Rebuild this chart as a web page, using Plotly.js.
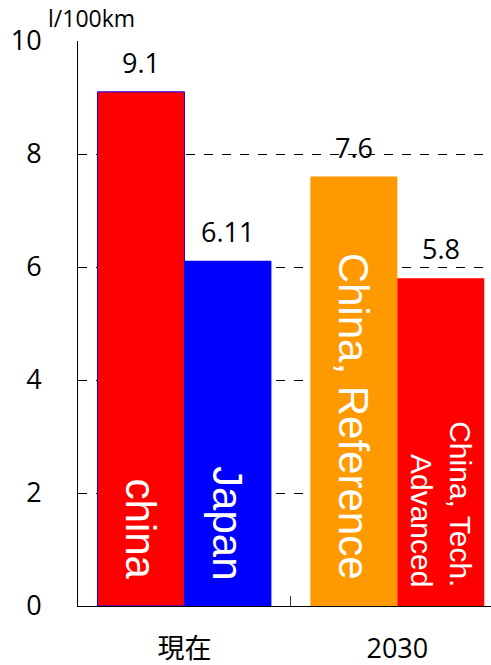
<!DOCTYPE html>
<html>
<head>
<meta charset="utf-8">
<script src="https://cdn.plot.ly/plotly-3.0.1.min.js"></script>
<style>
  html, body { margin: 0; padding: 0; background: #fff; }
  #chart { width: 491px; height: 665px; }
</style>
</head>
<body>
<div id="chart"></div>
<script>
// Fuel consumption, l/100km
const periods = ["現在", "2030"];

// first bar of each group
const firstValues = [9.1, 7.6];
const firstLabels = ["china", "China, Reference"];
const firstValueText = ["9.1", "7.6"];

// second bar of each group
const secondValues = [6.11, 5.8];
const secondLabels = ["Japan", "China, Tech.<br>Advanced"];
const secondValueText = ["6.11", "5.8"];

const unitLabel = "l/100km";
const yTicks = [0, 2, 4, 6, 8, 10];

const RED = "#ff0000", BLUE = "#0000ff", ORANGE = "#ff9900";
const firstColors = [RED, ORANGE];
const secondColors = [BLUE, RED];

const BARGAP = 0.183;
const barW = (1 - BARGAP) / 2;   // width of one bar in category units

const numFont = { family: "Open Sans, Noto Sans, sans-serif", size: 27, color: "#000" };

const traces = [
  {
    type: "bar", x: periods, y: firstValues,
    marker: { color: firstColors, line: { color: [BLUE, ORANGE], width: [1, 0] } },
    hoverinfo: "skip"
  },
  {
    type: "bar", x: periods, y: secondValues,
    marker: { color: secondColors, line: { width: 0 } },
    hoverinfo: "skip"
  }
];

const annotations = [];
function addBarLabels(values, valueText, labels, offset, bigSize) {
  values.forEach((v, i) => {
    const xc = i + offset;
    annotations.push({
      x: xc, y: v, xref: "x", yref: "y", text: valueText[i],
      showarrow: false, yanchor: "bottom", yshift: 9, font: numFont
    });
    const twoLine = labels[i].indexOf("<br>") >= 0;
    annotations.push({
      x: xc, y: 0, xref: "x", yref: "y", text: labels[i],
      showarrow: false, textangle: 90, yanchor: "bottom", yshift: twoLine ? 17 : 24,
      align: "right",
      font: { family: "Liberation Sans, Arial, sans-serif", size: twoLine ? 30 : bigSize, color: "#fff" }
    });
  });
}
addBarLabels(firstValues, firstValueText, firstLabels, -barW / 2, 42);
addBarLabels(secondValues, secondValueText, secondLabels, barW / 2, 42);

annotations.push({
  xref: "paper", yref: "paper", x: -0.077, y: 1, xanchor: "left", yanchor: "bottom",
  yshift: 5, showarrow: false, text: unitLabel,
  font: { family: "Open Sans, Noto Sans, sans-serif", size: 23, color: "#000" }
});

const layout = {
  width: 491, height: 665,
  margin: { l: 78, r: 0, t: 41, b: 59 },
  paper_bgcolor: "#fff", plot_bgcolor: "#fff",
  showlegend: false,
  barmode: "group", bargap: BARGAP, bargroupgap: 0,
  xaxis: {
    type: "category", range: [-0.5, 1.44],
    showline: true, linecolor: "#000", linewidth: 1,
    showgrid: false, zeroline: false,
    tickson: "boundaries", ticks: "inside", ticklen: 10, tickcolor: "#333", tickwidth: 1,
    ticklabelstandoff: 19,
    tickfont: { family: "Open Sans, Noto Sans CJK JP, sans-serif", size: 27, color: "#000" }
  },
  yaxis: {
    range: [0, 10], tickvals: yTicks, ticktext: yTicks.map(String),
    showline: true, linecolor: "#000", linewidth: 1,
    showgrid: true, gridcolor: "#000", gridwidth: 1, griddash: "dash",
    zeroline: false, ticks: "", ticklabelstandoff: 30,
    tickfont: numFont
  },
  annotations: annotations
};

Plotly.newPlot("chart", traces, layout, { staticPlot: true, displayModeBar: false });
</script>
</body>
</html>
